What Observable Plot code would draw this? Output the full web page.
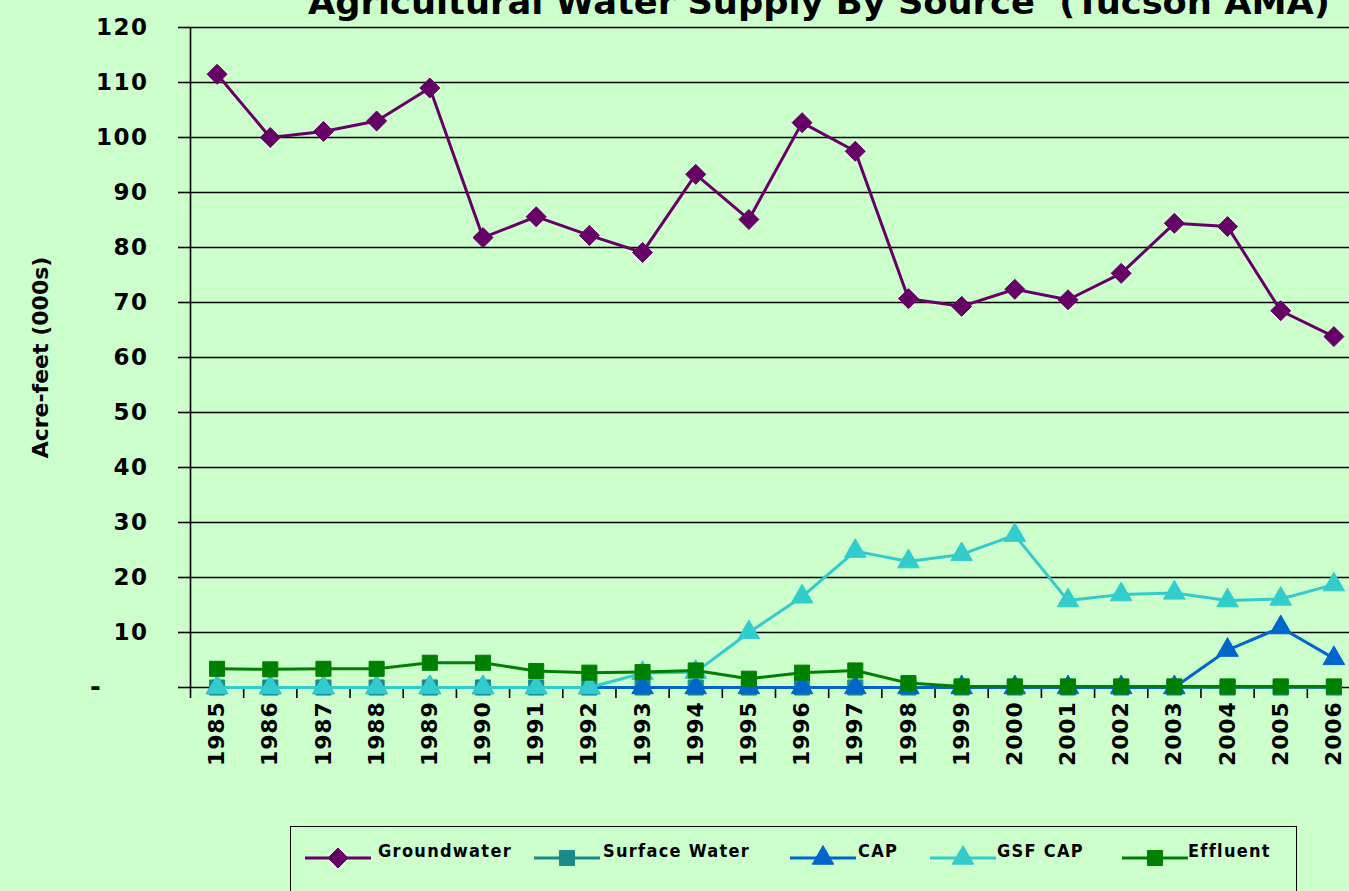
<!DOCTYPE html>
<html>
<head>
<meta charset="utf-8">
<script src="https://cdn.jsdelivr.net/npm/d3@7"></script>
<script src="https://cdn.jsdelivr.net/npm/@observablehq/plot@0.6"></script>
<style>
html, body { margin: 0; padding: 0; background: #CCFFCC; width: 1349px; height: 891px; overflow: hidden; }
#wrap { position: relative; width: 1349px; height: 891px; }
#title { position: absolute; left: 0; top: 0; }
#chart { position: absolute; left: 0; top: 0; }
#chart svg [aria-label="y-axis tick label"] text { letter-spacing: 1.5px; }
#chart svg [aria-label="x-axis tick label"] text { letter-spacing: 0.8px; }
#legend { position: absolute; left: 290px; top: 826px; width: 1007px; height: 80px; border: 1.5px solid #000; box-sizing: border-box; }
.item { position: absolute; top: 14px; height: 34px; }
.item svg { position: absolute; left: 0; top: 0; }
.item span { position: absolute; top: -1px; white-space: nowrap; font-family: "DejaVu Sans Condensed", "DejaVu Sans"; font-weight: bold; font-size: 18px; letter-spacing: 1.3px; color: #000; }
</style>
</head>
<body>
<div id="wrap">
  <svg id="title" width="1349" height="30">
    <text x="308" y="14" font-family="DejaVu Sans" font-weight="bold" font-size="34" textLength="1022" lengthAdjust="spacingAndGlyphs" fill="#000" style="white-space: pre">Agricultural Water Supply By Source  (Tucson AMA)</text>
  </svg>
  <div id="chart"></div>
  <div id="legend"></div>
</div>
<script>
const years = [1985, 1986, 1987, 1988, 1989, 1990, 1991, 1992, 1993, 1994, 1995, 1996, 1997, 1998, 1999, 2000, 2001, 2002, 2003, 2004, 2005, 2006];
const groundwater = [111.5, 100.0, 101.1, 103.0, 109.0, 81.8, 85.6, 82.2, 79.1, 93.3, 85.1, 102.7, 97.5, 70.7, 69.3, 72.4, 70.5, 75.3, 84.4, 83.8, 68.5, 63.8];
const surfaceWater = [0, 0, 0, 0, 0, 0, 0, 0, 0, 0, 0, 0, 0, 0, 0, 0, 0, 0, 0, 0, 0, 0];
const cap = [0, 0, 0, 0, 0, 0, 0, 0, 0, 0, 0, 0, 0, 0, 0, 0, 0, 0, 0, 6.8, 10.9, 5.3];
const gsfCap = [0, 0, 0, 0, 0, 0, 0, 0, 2.6, 2.8, 10.0, 16.5, 24.8, 22.9, 24.2, 27.7, 15.8, 16.9, 17.2, 15.8, 16.1, 18.7];
const effluent = [3.4, 3.3, 3.4, 3.4, 4.5, 4.5, 3.0, 2.7, 2.8, 3.1, 1.6, 2.7, 3.1, 0.8, 0.2, 0.2, 0.2, 0.2, 0.2, 0.2, 0.2, 0.2];
const yTicks = [0, 10, 20, 30, 40, 50, 60, 70, 80, 90, 100, 110, 120];
const yLabel = "Acre-feet (000s)";

const series = [
  {name: "Groundwater", values: groundwater, color: "#660066", symbol: "diamond2", r: 9},
  {name: "Surface Water", values: surfaceWater, color: "#1A8A8A", symbol: "square", r: 8.5},
  {name: "CAP", values: cap, color: "#0066CC", symbol: "triangle", r: 8},
  {name: "GSF CAP", values: gsfCap, color: "#33CCCC", symbol: "triangle", r: 8},
  {name: "Effluent", values: effluent, color: "#008000", symbol: "square", r: 8.5}
];

const rows = s => years.map((year, i) => ({year, value: s.values[i]}));
const boundaries = years.map(y => y - 0.5).concat([years[years.length - 1] + 0.5]);

const seriesMarks = series.flatMap(s => [
  Plot.line(rows(s), {x: "year", y: "value", stroke: s.color, strokeWidth: 3}),
  Plot.dot(rows(s), {x: "year", y: "value", symbol: s.symbol, r: s.r, fill: s.color, stroke: s.color, strokeWidth: 1})
]);

const chart = Plot.plot({
  width: 1349,
  height: 826,
  marginLeft: 190,
  marginRight: -11,
  marginTop: 27,
  marginBottom: 139,
  style: {background: "transparent", fontFamily: "DejaVu Sans", overflow: "hidden"},
  x: {domain: [years[0] - 0.5, years[years.length - 1] + 0.5], range: [190, 1360]},
  y: {domain: [0, 120], range: [687, 27]},
  marks: [
    Plot.ruleY(yTicks, {stroke: "#000", strokeWidth: 1.6}),
    Plot.ruleX([years[0] - 0.5], {y1: 0, y2: 120, stroke: "#000", strokeWidth: 1.6}),
    Plot.axisX(boundaries, {tickSize: 11, tickFormat: () => "", stroke: "#000", strokeWidth: 1.6, label: null}),
    Plot.axisY(yTicks.filter(d => d > 0), {tickSize: 12, tickPadding: 30, fontSize: 23, fontWeight: "bold", fill: "#000", stroke: "#000", strokeWidth: 1.6, label: null}),
    Plot.axisY([0], {tickSize: 12, tickFormat: () => "", stroke: "#000", strokeWidth: 1.6, label: null}),
    Plot.text([0], {x: () => years[0] - 0.5, y: d => d, text: () => "-", dx: -95, fontSize: 26, fontWeight: "bold", fill: "#000"}),
    Plot.axisX(years, {tickSize: 0, tickPadding: 14, tickRotate: -90, tickFormat: d => String(d), fontSize: 22, fontWeight: "bold", fill: "#000", label: null}),
    Plot.text([yLabel], {frameAnchor: "left", textAnchor: "middle", rotate: -90, dx: -150, fontSize: 22, fontWeight: "bold", fill: "#000", text: d => d}),
    ...seriesMarks
  ]
});
document.getElementById("chart").appendChild(chart);

// Legend
const legend = document.getElementById("legend");
const legendPos = [{sw: 14, tx: 87}, {sw: 243, tx: 312}, {sw: 499, tx: 567}, {sw: 639, tx: 706}, {sw: 831, tx: 897}];
series.forEach((s, i) => {
  const item = document.createElement("div");
  item.className = "item";
  item.style.left = legendPos[i].sw + "px";
  const sw = d3.create("svg").attr("width", 68).attr("height", 34);
  sw.append("line").attr("x1", 0).attr("x2", 66).attr("y1", 17).attr("y2", 17).attr("stroke", s.color).attr("stroke-width", 3);
  const symMap = {diamond2: d3.symbolDiamond2, square: d3.symbolSquare, triangle: d3.symbolTriangle};
  sw.append("path").attr("transform", "translate(33,17)").attr("d", d3.symbol(symMap[s.symbol], Math.PI * s.r * s.r)()).attr("fill", s.color).attr("stroke", s.color);
  item.appendChild(sw.node());
  const t = document.createElement("span");
  t.style.left = (legendPos[i].tx - legendPos[i].sw) + "px";
  t.textContent = s.name;
  item.appendChild(t);
  legend.appendChild(item);
});
</script>
</body>
</html>
